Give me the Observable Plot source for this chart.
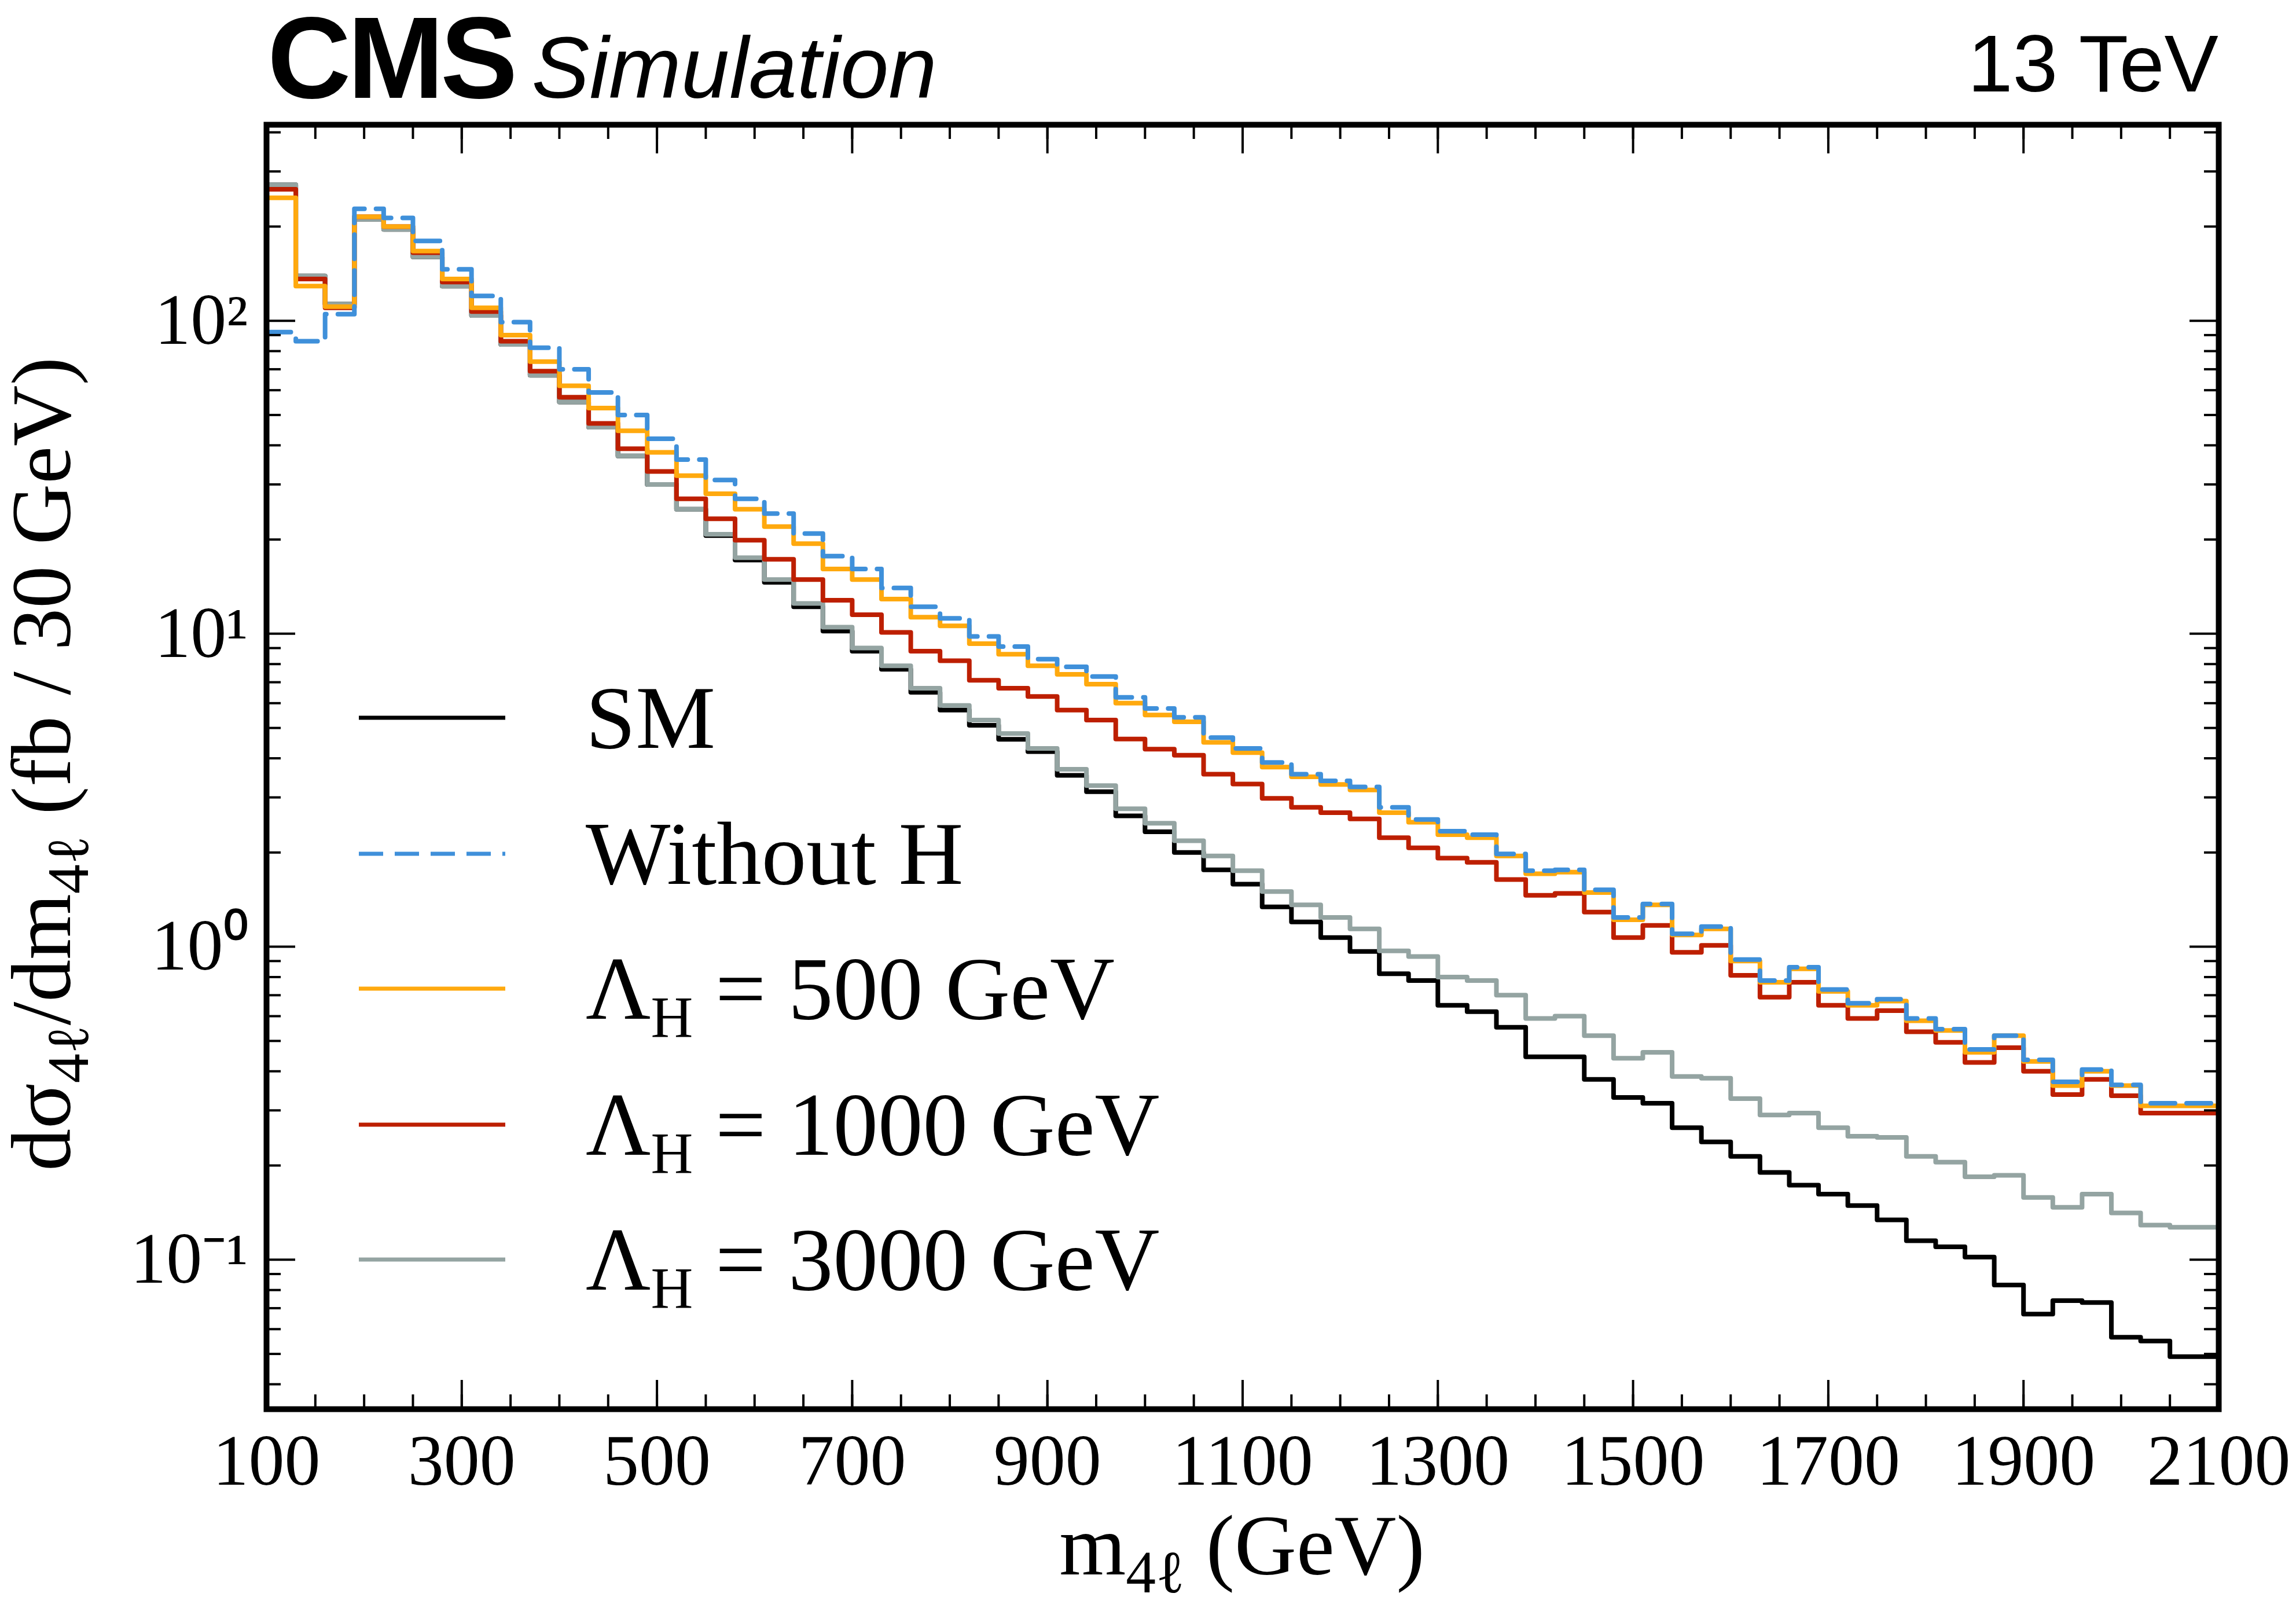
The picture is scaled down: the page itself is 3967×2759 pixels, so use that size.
<!DOCTYPE html>
<html><head><meta charset="utf-8">
<script src="https://cdn.jsdelivr.net/npm/d3@7"></script>
<script src="https://cdn.jsdelivr.net/npm/@observablehq/plot@0.6"></script>
<style>
body{margin:0;background:#fff;}
#wrap{position:relative;width:3967px;height:2759px;background:#fff;font-family:"Liberation Serif",serif;overflow:hidden;}
.abs{position:absolute;white-space:nowrap;}
</style></head>
<body><div id="wrap"></div>
<script>
const binLow = d3.range(100, 2081, 30); // 67 bin left edges (GeV)
const sm = [272,139,113,211,196,160,129,104,84,67,55,45.7,37,30,25,20.6,17.2,14.6,12.2,10.2,8.8,7.7,6.5,5.7,5.1,4.6,4.2,
 3.53,3.13,2.62,2.33,2.0,1.76,1.585,1.34,1.20,1.07,0.966,0.82,0.78,0.65,0.62,0.553,0.445,0.445,0.377,0.33,0.316,0.264,0.238,0.214,0.19,0.173,0.162,0.149,0.134,0.115,0.110,0.102,0.083,0.067,0.074,0.073,0.0565,0.055,0.049,0.049];
const withoutH = [92,86,105,228,213,180,146,120,99,82,70,59,50,42,36,31,27,24.2,20.9,17.7,16.1,14.0,12.2,11.2,9.8,9.1,8.3,
 7.84,7.3,6.26,5.77,5.41,4.66,4.30,3.88,3.56,3.39,3.24,2.79,2.55,2.34,2.28,1.98,1.75,1.76,1.52,1.24,1.37,1.10,1.16,0.91,0.78,0.86,0.73,0.66,0.68,0.59,0.545,0.47,0.52,0.435,0.37,0.405,0.362,0.316,0.316,0.316];
const lam500 = [247,129,111,215,200,167,136,110,90,74,62,52.6,44.5,38,32,28,25,22,19.4,16.1,14.9,12.9,11.3,10.6,9.3,8.6,7.9,
 7.42,6.9,6.0,5.5,5.23,4.5,4.17,3.75,3.49,3.30,3.17,2.68,2.5,2.28,2.23,1.95,1.71,1.73,1.49,1.22,1.36,1.09,1.14,0.90,0.77,0.85,0.72,0.65,0.67,0.58,0.54,0.46,0.52,0.43,0.36,0.40,0.36,0.31,0.31,0.31];
const lam1000 = [263,136,110,215,200,165,133,107,86,69,57,47,39,33,27,23.3,19.9,17.3,14.9,12.8,11.5,10.1,8.8,8.2,7.1,6.7,6.3,
 5.70,5.30,4.61,4.28,4.09,3.56,3.31,2.98,2.79,2.68,2.56,2.23,2.07,1.92,1.86,1.64,1.46,1.48,1.29,1.07,1.17,0.96,1.01,0.81,0.69,0.77,0.65,0.59,0.625,0.535,0.495,0.427,0.476,0.40,0.337,0.377,0.334,0.294,0.294,0.294];
const lam3000 = [272,139,113,211,196,160,129,104,84,67,55,45.7,37,30,25,20.8,17.5,14.9,12.5,10.5,9.0,7.9,6.7,5.9,5.3,4.8,4.3,
 3.69,3.27,2.76,2.48,2.18,1.95,1.75,1.50,1.36,1.24,1.14,0.97,0.93,0.80,0.78,0.70,0.59,0.60,0.52,0.44,0.46,0.385,0.38,0.327,0.29,0.294,0.264,0.248,0.246,0.214,0.205,0.184,0.186,0.158,0.147,0.162,0.141,0.129,0.127,0.127];
const series = [
  {name:"SM", vals:sm, color:"#000000", dash:null},
  {name:"Without H", vals:withoutH, color:"#3f90da", dash:"42,20"},
  {name:"500", vals:lam500, color:"#ffa90e", dash:null},
  {name:"1000", vals:lam1000, color:"#bd1f01", dash:null},
  {name:"3000", vals:lam3000, color:"#94a4a2", dash:null}
];
const xMajor = d3.range(100, 2101, 200);
const xMinor = d3.range(100, 2101, 50);
const yMajor = [0.1, 1, 10, 100];
const yMinor = [0.04,0.05,0.06,0.07,0.08,0.09,0.2,0.3,0.4,0.5,0.6,0.7,0.8,0.9,2,3,4,5,6,7,8,9,20,30,40,50,60,70,80,90,200,300,400];
const yLabels = {0.1:"10⁻¹", 1:"10⁰", 10:"10¹", 100:"10²"};

const W=3967,H=2759, mL=460, mR=134, mT=215, mB=325;
const pw=W-mL-mR, ph=H-mT-mB;
const lines = series.map(s => {
  const pts = binLow.map((x,i)=>({x, y:s.vals[i]}));
  pts.push({x:2110, y:s.vals[s.vals.length-1]});
  return Plot.line(pts, {x:"x", y:"y", curve:"step-after", stroke:s.color, strokeWidth:8, strokeDasharray:s.dash, clip:true});
});
const tk = {stroke:"#000", strokeWidth:4};
const chart = Plot.plot({
  width:W, height:H, marginLeft:mL, marginRight:mR, marginTop:mT, marginBottom:mB,
  style:{fontFamily:"Liberation Serif", background:"#fff", color:"#000"},
  x:{domain:[100,2100]},
  y:{type:"log", domain:[0.0333,423]},
  marks:[
    ...[lines[0], lines[4], lines[3], lines[2], lines[1]],
    Plot.tickX(xMajor, {x:d=>d, insetTop:ph-50, ...tk}),
    Plot.tickX(xMajor, {x:d=>d, insetBottom:ph-50, ...tk}),
    Plot.tickX(xMinor, {x:d=>d, insetTop:ph-25, ...tk}),
    Plot.tickX(xMinor, {x:d=>d, insetBottom:ph-25, ...tk}),
    Plot.tickY(yMajor, {y:d=>d, insetRight:pw-50, ...tk}),
    Plot.tickY(yMajor, {y:d=>d, insetLeft:pw-50, ...tk}),
    Plot.tickY(yMinor, {y:d=>d, insetRight:pw-25, ...tk}),
    Plot.tickY(yMinor, {y:d=>d, insetLeft:pw-25, ...tk}),
    Plot.axisX({ticks:xMajor, tickSize:0, tickPadding:42, fontSize:124, label:null, tickFormat:d=>String(d)}),
    Plot.axisY({ticks:yMajor, tickSize:0, tickPadding:32, fontSize:124, label:null, tickFormat:d=>yLabels[d]}),
    Plot.frame({stroke:"#000", strokeWidth:10})
  ]
});
const wrap = document.getElementById("wrap");
chart.style.position="absolute"; chart.style.left="0"; chart.style.top="0";
wrap.appendChild(chart);

function add(html, css){ const d=document.createElement("div"); d.className="abs"; d.innerHTML=html; Object.assign(d.style, css); wrap.appendChild(d); }
add('<span style="font-family:\'Liberation Sans\';font-weight:bold;font-size:200px;letter-spacing:-6px">CMS</span><span style="display:inline-block;width:30px"></span><span style="font-family:\'Liberation Sans\';font-style:italic;font-size:150px">Simulation</span>',{left:"462px", top:"-10px", lineHeight:"220px"});
add('<span style="font-family:\'Liberation Sans\';font-size:140px">13 TeV</span>',{right:"134px", top:"0px", lineHeight:"220px"});
add('m<sub style="font-size:0.7em">4ℓ</sub> (GeV)',{left:"2146px", top:"2585px", transform:"translateX(-50%)", fontSize:"148px", lineHeight:"170px"});
add('dσ<sub style="font-size:0.7em">4ℓ</sub>/dm<sub style="font-size:0.7em">4ℓ</sub> (fb / 30 GeV)',{left:"95px", top:"1320px", transform:"translate(-50%,-50%) rotate(-90deg)", fontSize:"146px", lineHeight:"170px"});
const leg = [
  ["SM","#000",null],["Without H","#3f90da","42,20"],
  ['Λ<sub style="font-size:0.65em">H</sub> = 500 GeV',"#ffa90e",null],
  ['Λ<sub style="font-size:0.65em">H</sub> = 1000 GeV',"#bd1f01",null],
  ['Λ<sub style="font-size:0.65em">H</sub> = 3000 GeV',"#94a4a2",null]];
const rowY=[1240,1475,1708,1943,2176];
leg.forEach((l,i)=>{
  add(`<svg width="260" height="20"><line x1="0" y1="10" x2="253" y2="10" stroke="${l[1]}" stroke-width="7" ${l[2]?`stroke-dasharray="${l[2]}"`:""}/></svg>`,{left:"620px", top:(rowY[i]-10)+"px", lineHeight:"0"});
  add(l[0],{left:"1012px", top:(rowY[i]-95)+"px", fontSize:"155px", lineHeight:"190px"});
});
</script></body></html>
